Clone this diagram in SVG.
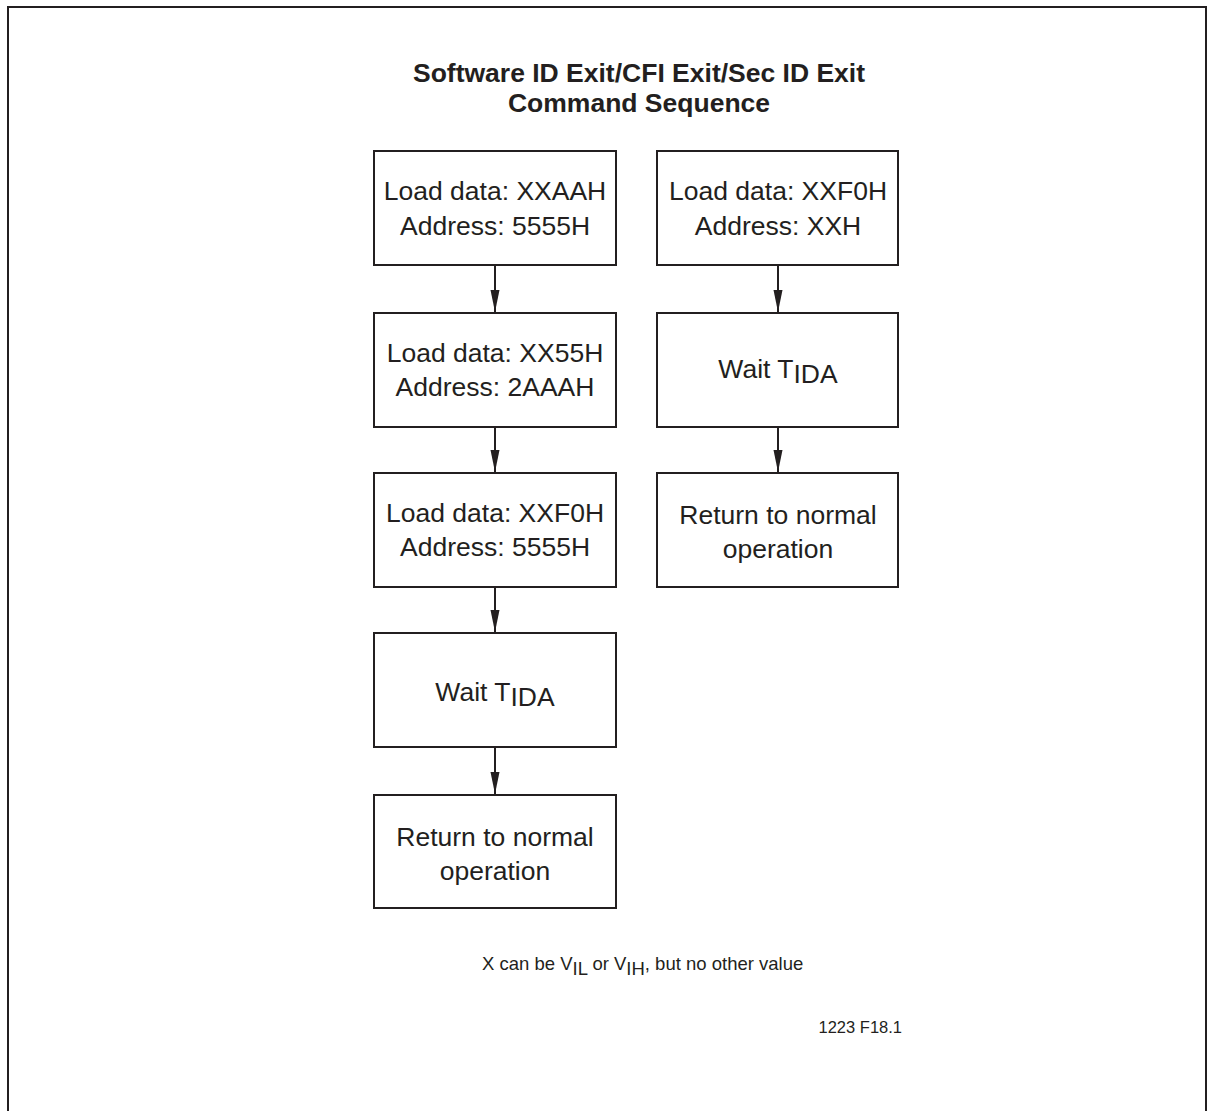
<svg xmlns="http://www.w3.org/2000/svg" width="1213" height="1111" viewBox="0 0 1213 1111">
<defs>
<marker id="ah" viewBox="0 0 22 10" refX="22" refY="5" markerWidth="22" markerHeight="10" markerUnits="userSpaceOnUse" orient="auto">
<path d="M0,0.5 L22,5 L0,9.5 Z" fill="#231f20"/>
</marker>
<style>
.box{fill:#fff;stroke:#231f20;stroke-width:2}
.t{font-family:"Liberation Sans",Arial,sans-serif;font-size:26.5px;fill:#231f20;text-anchor:middle}
.h{font-weight:bold;font-size:26.5px}
.n{font-family:"Liberation Sans",Arial,sans-serif;fill:#231f20}
.c{stroke:#231f20;stroke-width:2;fill:none}
</style>
</defs>
<rect width="1213" height="1111" fill="#fff"/>
<path d="M8,1111 V7 H1206 V1111" fill="none" stroke="#231f20" stroke-width="2"/>
<g id="title">
<text x="639" y="82" class="t h">Software ID Exit/CFI Exit/Sec ID Exit</text>
<text x="639" y="112" class="t h">Command Sequence</text>
</g>
<g id="L1"><rect class="box" x="374" y="151" width="242" height="114"/>
<text class="t" x="495" y="200">Load data: XXAAH</text><text class="t" x="495" y="235">Address: 5555H</text></g>
<g id="L2"><rect class="box" x="374" y="313" width="242" height="114"/>
<text class="t" x="495" y="362">Load data: XX55H</text><text class="t" x="495" y="396">Address: 2AAAH</text></g>
<g id="L3"><rect class="box" x="374" y="473" width="242" height="114"/>
<text class="t" x="495" y="522">Load data: XXF0H</text><text class="t" x="495" y="556">Address: 5555H</text></g>
<g id="L4"><rect class="box" x="374" y="633" width="242" height="114"/>
<text class="t" x="495" y="701">Wait T<tspan dy="5">IDA</tspan></text></g>
<g id="L5"><rect class="box" x="374" y="795" width="242" height="113"/>
<text class="t" x="495" y="846">Return to normal</text><text class="t" x="495" y="880">operation</text></g>
<g id="R1"><rect class="box" x="657" y="151" width="241" height="114"/>
<text class="t" x="778" y="200">Load data: XXF0H</text><text class="t" x="778" y="235">Address: XXH</text></g>
<g id="R2"><rect class="box" x="657" y="313" width="241" height="114"/>
<text class="t" x="778" y="378">Wait T<tspan dy="5">IDA</tspan></text></g>
<g id="R3"><rect class="box" x="657" y="473" width="241" height="114"/>
<text class="t" x="778" y="524">Return to normal</text><text class="t" x="778" y="558">operation</text></g>
<g id="connectors">
<line class="c" x1="495" y1="265" x2="495" y2="312" marker-end="url(#ah)"/>
<line class="c" x1="495" y1="427" x2="495" y2="472" marker-end="url(#ah)"/>
<line class="c" x1="495" y1="587" x2="495" y2="632" marker-end="url(#ah)"/>
<line class="c" x1="495" y1="747" x2="495" y2="794" marker-end="url(#ah)"/>
<line class="c" x1="778" y1="265" x2="778" y2="312" marker-end="url(#ah)"/>
<line class="c" x1="778" y1="427" x2="778" y2="472" marker-end="url(#ah)"/>
</g>
<g id="notes">
<text x="482" y="970" class="n" font-size="18.5">X can be V<tspan dy="5">IL</tspan><tspan dy="-5"> or V</tspan><tspan dy="5">IH</tspan><tspan dy="-5">, but no other value</tspan></text>
<text x="902" y="1033" text-anchor="end" class="n" font-size="16.5">1223 F18.1</text>
</g>
</svg>
